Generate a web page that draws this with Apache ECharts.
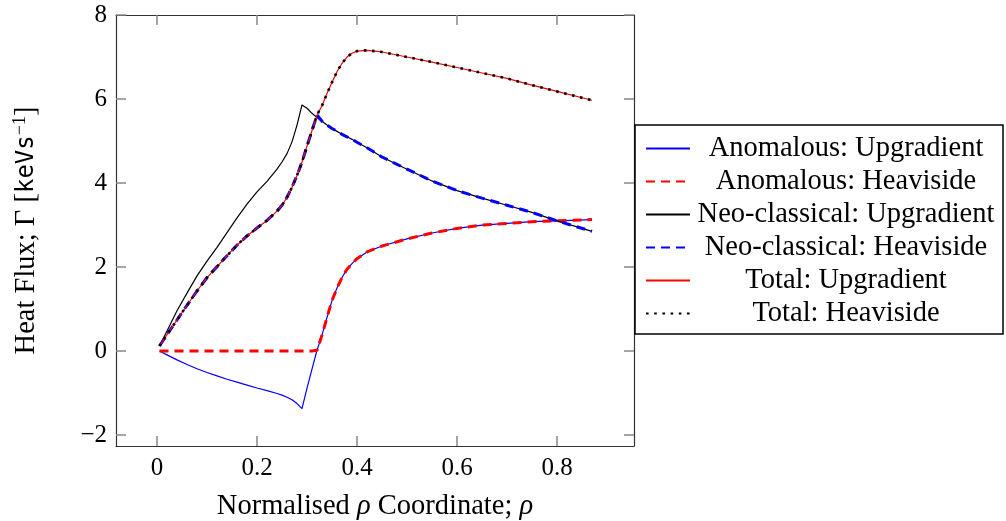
<!DOCTYPE html>
<html>
<head>
<meta charset="utf-8">
<script src="https://cdn.jsdelivr.net/npm/echarts@6/dist/echarts.min.js"></script>
<style>
  html, body { margin: 0; padding: 0; background: #fff; }
  #chart { width: 1006px; height: 521px; }
</style>
</head>
<body>
<div id="chart"></div>
<script>
// rho grid shared by all curves
const rho = [0.005, 0.02, 0.04, 0.06, 0.08, 0.1, 0.12, 0.14, 0.16, 0.18, 0.2, 0.22, 0.24, 0.25, 0.26, 0.27,
  0.28, 0.29, 0.3, 0.31, 0.32, 0.33, 0.34, 0.35, 0.36, 0.37, 0.38, 0.39, 0.4, 0.42, 0.45, 0.5, 0.55,
  0.6, 0.65, 0.7, 0.75, 0.8, 0.87]

const anomUp = [0, -0.09, -0.21, -0.32, -0.42, -0.51, -0.59, -0.67, -0.74, -0.81, -0.88, -0.94, -1.01, -1.05, -1.1, -1.16,
  -1.25, -1.37, -0.88, -0.43, 0.02, 0.38, 0.8, 1.2, 1.5, 1.75, 1.95, 2.08, 2.2, 2.36, 2.5, 2.67, 2.81,
  2.92, 3.0, 3.04, 3.08, 3.1, 3.13]
const anomHeav = [0, 0, 0, 0, 0, 0, 0, 0, 0, 0, 0, 0, 0, 0, 0, 0,
  0, 0, 0, 0, 0.02, 0.38, 0.8, 1.2, 1.5, 1.75, 1.95, 2.08, 2.2, 2.36, 2.5, 2.67, 2.81,
  2.92, 3.0, 3.04, 3.08, 3.1, 3.13]
const neoUp = [0.12, 0.48, 0.96, 1.38, 1.79, 2.14, 2.47, 2.82, 3.17, 3.5, 3.79, 4.04, 4.33, 4.5, 4.7, 4.98,
  5.38, 5.86, 5.78, 5.66, 5.56, 5.47, 5.38, 5.3, 5.23, 5.16, 5.1, 5.04, 4.97, 4.84, 4.62, 4.33, 4.05,
  3.82, 3.64, 3.47, 3.3, 3.1, 2.85]
const neoHeav = [0.12, 0.39, 0.74, 1.09, 1.43, 1.75, 2.01, 2.27, 2.52, 2.74, 2.93, 3.11, 3.33, 3.47, 3.66, 3.9,
  4.18, 4.5, 4.88, 5.25, 5.62, 5.47, 5.38, 5.3, 5.23, 5.16, 5.1, 5.04, 4.97, 4.84, 4.62, 4.33, 4.05,
  3.82, 3.64, 3.47, 3.3, 3.1, 2.85]
const totalUp = [0.12, 0.39, 0.74, 1.09, 1.43, 1.75, 2.01, 2.27, 2.52, 2.74, 2.93, 3.11, 3.33, 3.47, 3.66, 3.9,
  4.18, 4.5, 4.88, 5.25, 5.62, 5.84, 6.13, 6.4, 6.65, 6.85, 7.0, 7.09, 7.14, 7.16, 7.12, 7.0, 6.88,
  6.75, 6.62, 6.49, 6.33, 6.18, 5.97]
const totalHeav = [0.12, 0.39, 0.74, 1.09, 1.43, 1.75, 2.01, 2.27, 2.52, 2.74, 2.93, 3.11, 3.33, 3.47, 3.66, 3.9,
  4.18, 4.5, 4.88, 5.25, 5.62, 5.84, 6.13, 6.4, 6.65, 6.85, 7.0, 7.09, 7.14, 7.16, 7.12, 7.0, 6.88,
  6.75, 6.62, 6.49, 6.33, 6.18, 5.97]

const xTicks = [0, 0.2, 0.4, 0.6, 0.8]
const yTicks = [-2, 0, 2, 4, 6, 8]
const names = ['Anomalous: Upgradient', 'Anomalous: Heaviside', 'Neo-classical: Upgradient',
  'Neo-classical: Heaviside', 'Total: Upgradient', 'Total: Heaviside']

const font = 'Liberation Serif'

function pairs(ys) {
  return rho.map((x, i) => [x, ys[i]])
}

function line(name, ys, color, width, type) {
  return {
    name: name,
    type: 'line',
    data: pairs(ys),
    symbol: 'none',
    animation: false,
    xAxisIndex: 0,
    yAxisIndex: 0,
    lineStyle: { color: color, width: width, type: type, cap: 'butt' },
    itemStyle: { color: color },
  }
}

const tickStyle = { show: true, inside: true, length: 10, lineStyle: { color: '#888', width: 1.5 } }

function xAxis(pos, showLabel) {
  return {
    type: 'value',
    position: pos,
    min: -0.082,
    max: 0.954,
    axisLine: { show: true, onZero: false, lineStyle: { color: '#333', width: 1.2 } },
    axisTick: Object.assign({ customValues: xTicks }, tickStyle),
    splitLine: { show: false },
    axisLabel: {
      show: showLabel,
      customValues: xTicks,
      margin: 10,
      fontFamily: font,
      fontSize: 25,
      color: '#000',
    },
    name: showLabel ? '{t|Normalised }{i|ρ}{t| Coordinate; }{i|ρ}' : '',
    nameLocation: 'middle',
    nameGap: 46,
    nameTextStyle: {
      rich: {
        t: { fontFamily: font, fontSize: 28.5, color: '#000' },
        i: { fontFamily: font, fontSize: 28.5, fontStyle: 'italic', color: '#000' },
      },
    },
  }
}

function yAxis(pos, showLabel) {
  return {
    type: 'value',
    position: pos,
    min: -2.26,
    max: 8,
    axisLine: { show: true, onZero: false, lineStyle: { color: '#333', width: 1.2 } },
    axisTick: Object.assign({ customValues: yTicks }, tickStyle),
    splitLine: { show: false },
    axisLabel: {
      show: showLabel,
      customValues: yTicks,
      margin: 9,
      fontFamily: font,
      fontSize: 25,
      color: '#000',
      formatter: (v) => String(v).replace('-', '\u2212'),
    },
    name: showLabel ? '{t|Heat Flux; Γ [}{m|keVs}{s|\u22121}{t|]}' : '',
    nameLocation: 'middle',
    nameRotate: 90,
    nameGap: 74,
    nameTextStyle: {
      rich: {
        t: { fontFamily: font, fontSize: 28.5, color: '#000' },
        m: { fontFamily: 'DejaVu Sans Mono', fontSize: 24, color: '#000' },
        s: { fontFamily: font, fontSize: 18, color: '#000', padding: [0, 0, 13, 0] },
      },
    },
  }
}

const chart = echarts.init(document.getElementById('chart'))
chart.setOption({
  backgroundColor: '#fff',
  animation: false,
  grid: { left: 116, top: 15, right: 372, bottom: 75, outerBoundsMode: 'none' },
  xAxis: [xAxis('bottom', true), xAxis('top', false)],
  yAxis: [yAxis('left', true), yAxis('right', false)],
  graphic: [{
    type: 'rect',
    shape: { x: 635, y: 125, width: 368, height: 209 },
    style: { fill: '#fff', stroke: '#000', lineWidth: 1.5 },
    z: 1,
  }],
  legend: {
    data: names,
    orient: 'vertical',
    left: 640,
    top: 129,
    itemWidth: 44,
    itemHeight: 14,
    itemGap: 4,
    z: 10,
    itemStyle: { opacity: 0 },
    formatter: (name) => '{c|' + name + '}',
    textStyle: {
      rich: {
        c: {
          fontFamily: font,
          fontSize: 28.5,
          color: '#000',
          lineHeight: 24,
          width: 302,
          align: 'center',
        },
      },
    },
  },
  series: [
    line(names[0], anomUp, '#0000ff', 1.2, 'solid'),
    line(names[1], anomHeav, '#ff0000', 3, [9, 6]),
    line(names[2], neoUp, '#000000', 1.2, 'solid'),
    line(names[3], neoHeav, '#0000ff', 3, [9, 6]),
    line(names[4], totalUp, '#ff0000', 1.2, 'solid'),
    line(names[5], totalHeav, '#000000', 2.6, [2.6, 5.6]),
  ],
})
</script>
</body>
</html>
